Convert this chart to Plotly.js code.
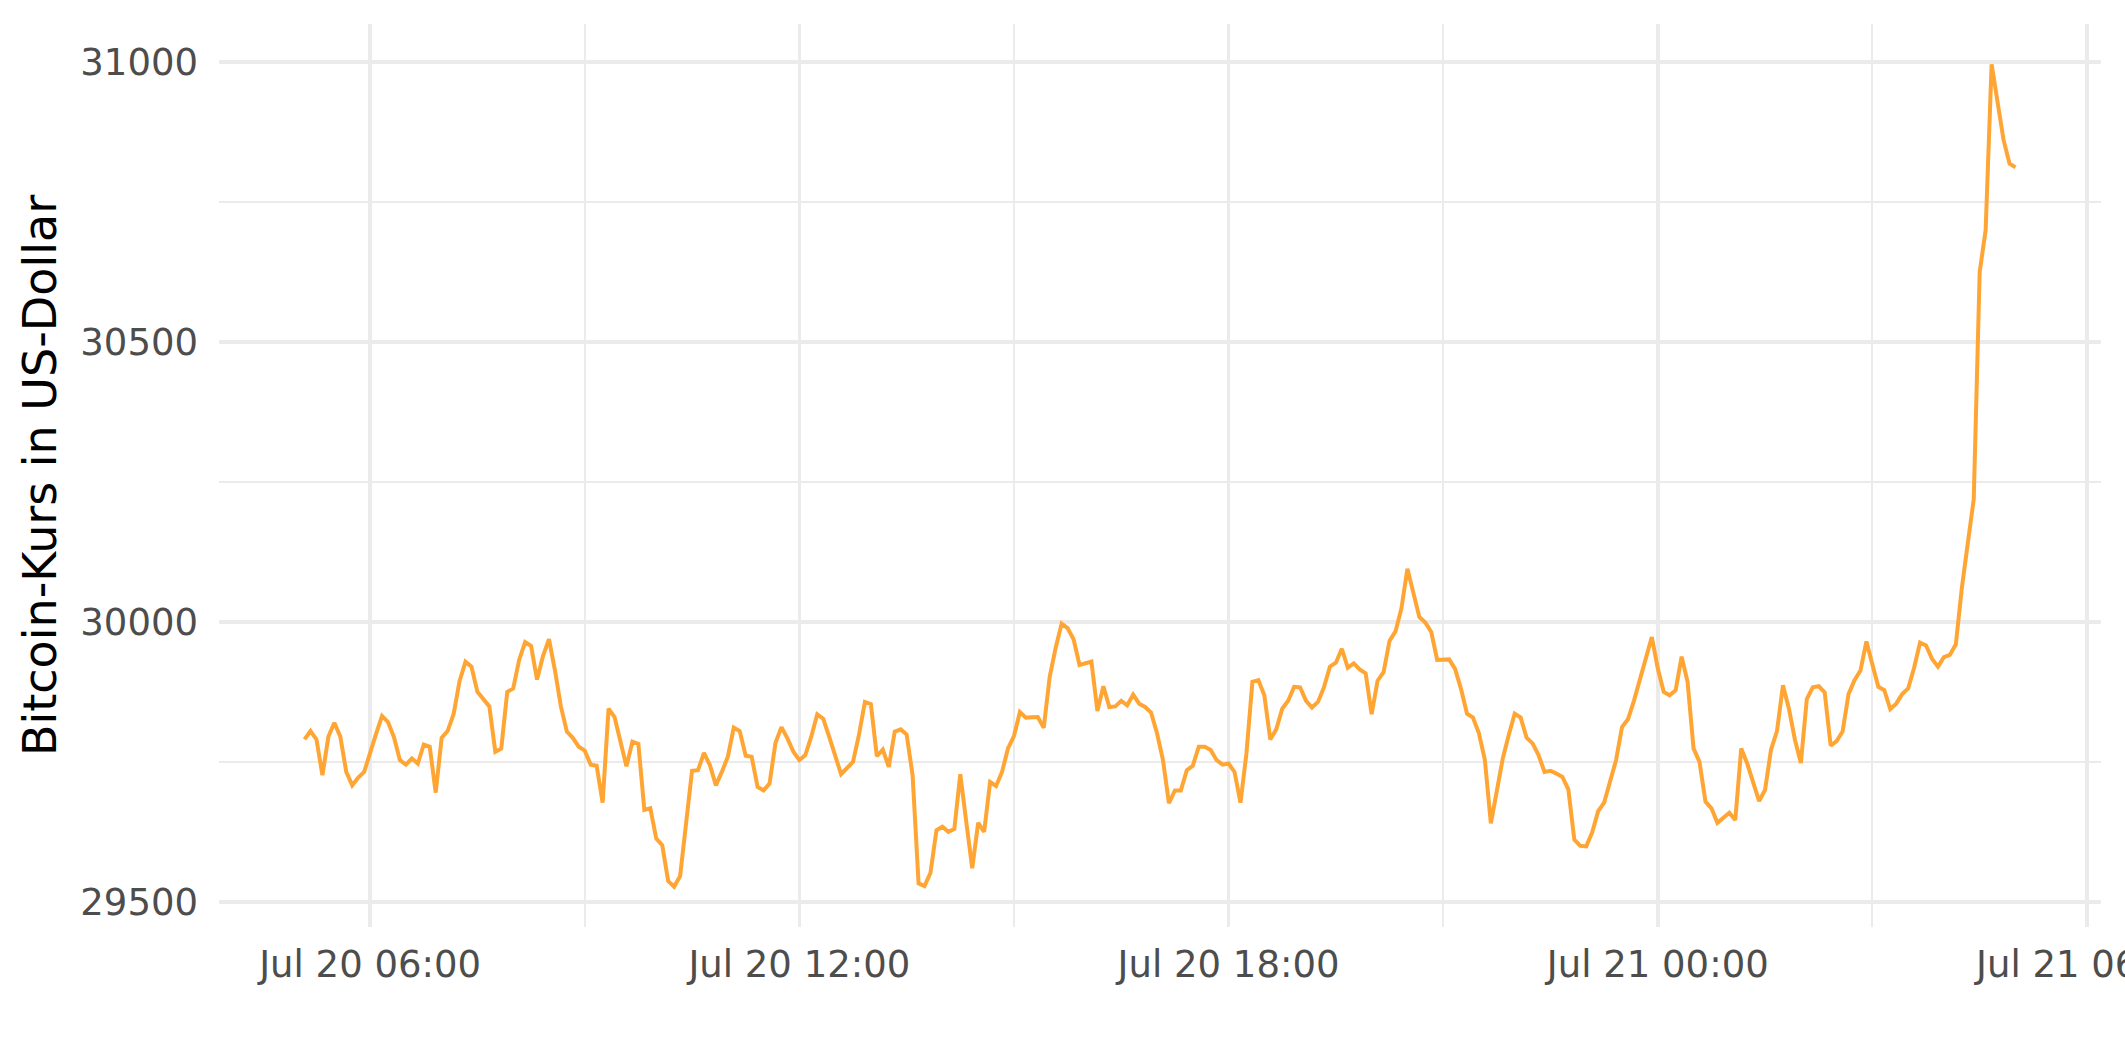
<!DOCTYPE html>
<html>
<head>
<meta charset="utf-8">
<script src="https://cdn.plot.ly/plotly-3.0.1.min.js"></script>
<style>
  html, body { margin: 0; padding: 0; background: #ffffff; }
  #chart { width: 2125px; height: 1062px; }
</style>
</head>
<body>
<div id="chart"></div>
<script>
// Bitcoin price, 5-minute samples, starting 2021-07-20 05:05
const startTime = '2021-07-20 05:05';
const stepMs = 5 * 60 * 1000;
const prices = [
  29790, 29805, 29790, 29726, 29795, 29820, 29795, 29732, 29708, 29722,
  29732, 29768, 29800, 29832, 29821, 29794, 29753, 29745, 29756, 29747,
  29781, 29777, 29695, 29793, 29805, 29835, 29894, 29929, 29920, 29875,
  29861, 29849, 29768, 29774, 29875, 29881, 29932, 29964, 29957, 29897,
  29939, 29969, 29914, 29849, 29804, 29793, 29777, 29770, 29745, 29743,
  29677, 29845, 29830, 29789, 29742, 29786, 29782, 29664, 29667, 29613,
  29601, 29537, 29527, 29546, 29634, 29734, 29735, 29766, 29744, 29708,
  29732, 29759, 29811, 29805, 29761, 29759, 29705, 29699, 29711, 29784,
  29812, 29792, 29768, 29753, 29762, 29795, 29835, 29827, 29795, 29762,
  29728, 29739, 29750, 29798, 29857, 29853, 29760, 29772, 29741, 29804,
  29808, 29799, 29726, 29533, 29528, 29552, 29628, 29634, 29625, 29630,
  29728, 29643, 29560, 29641, 29625, 29714, 29707, 29732, 29774, 29796,
  29839, 29829, 29829, 29830, 29811, 29902, 29954, 29997, 29989, 29969,
  29923, 29926, 29929, 29841, 29885, 29848, 29849, 29859, 29851, 29870,
  29854, 29848, 29838, 29801, 29753, 29676, 29699, 29699, 29735, 29743,
  29777, 29777, 29771, 29753, 29745, 29747, 29732, 29677, 29765, 29893,
  29896, 29869, 29790, 29808, 29845, 29859, 29884, 29883, 29859, 29847,
  29857, 29883, 29920, 29927, 29952, 29918, 29926, 29915, 29908, 29835,
  29895, 29910, 29966, 29983, 30024, 30095, 30048, 30009, 29999, 29982,
  29932, 29932, 29933, 29916, 29880, 29836, 29829, 29801, 29753, 29640,
  29699, 29756, 29798, 29836, 29829, 29793, 29783, 29762, 29732, 29734,
  29729, 29723, 29701, 29611, 29600, 29599, 29624, 29662, 29677, 29717,
  29753, 29812, 29826, 29859, 29896, 29938, 29973, 29917, 29875, 29869,
  29878, 29938, 29893, 29774, 29750, 29679, 29667, 29641, 29651, 29659,
  29646, 29774, 29747, 29712, 29680, 29700, 29772, 29805, 29887, 29845,
  29790, 29748, 29862, 29883, 29885, 29874, 29779, 29787, 29804, 29871,
  29896, 29913, 29965, 29924, 29884, 29878, 29844, 29854, 29871, 29881,
  29918, 29963, 29958, 29934, 29920, 29937, 29941, 29960, 30060, 30140,
  30219, 30625, 30700, 30996, 30928, 30861, 30819, 30812
];
const yTitle = 'Bitcoin-Kurs in US-Dollar';
const xRange = ['2021-07-20 03:53:15', '2021-07-21 06:11:45'];
const yRange = [29455, 31068];

const gridCol = '#ebebeb';
const font = 'DejaVu Sans, Liberation Sans, sans-serif';

const trace = {
  type: 'scatter',
  mode: 'lines',
  x0: startTime,
  dx: stepMs,
  y: prices,
  line: { color: '#ffa534', width: 4 },
  hoverinfo: 'x+y'
};

const layout = {
  width: 2125,
  height: 1062,
  paper_bgcolor: '#ffffff',
  plot_bgcolor: '#ffffff',
  showlegend: false,
  margin: { l: 219, r: 24, t: 24, b: 135 },
  font: { family: font, color: '#4d4d4d' },
  xaxis: {
    type: 'date',
    range: xRange,
    tick0: '2021-07-20 00:00',
    dtick: 6 * 3600 * 1000,
    tickformat: '%b %d %H:%M',
    showgrid: true,
    gridcolor: gridCol,
    gridwidth: 3.6,
    minor: { dtick: 3 * 3600 * 1000, showgrid: true, gridcolor: gridCol, gridwidth: 1.8 },
    zeroline: false,
    showline: false,
    ticks: '',
    ticklabelstandoff: 12,
    ticklabeloverflow: 'allow',
    tickfont: { family: font, size: 37, color: '#4d4d4d' }
  },
  yaxis: {
    range: yRange,
    tick0: 29500,
    dtick: 500,
    tickformat: 'd',
    showgrid: true,
    gridcolor: gridCol,
    gridwidth: 3.6,
    minor: { dtick: 250, showgrid: true, gridcolor: gridCol, gridwidth: 1.8 },
    zeroline: false,
    showline: false,
    ticks: '',
    ticklabelstandoff: 20,
    tickfont: { family: font, size: 37, color: '#4d4d4d' },
    title: { text: yTitle, font: { family: font, size: 46, color: '#000000' }, standoff: 9 }
  }
};

Plotly.newPlot('chart', [trace], layout, { staticPlot: true, displayModeBar: false });
</script>
</body>
</html>
